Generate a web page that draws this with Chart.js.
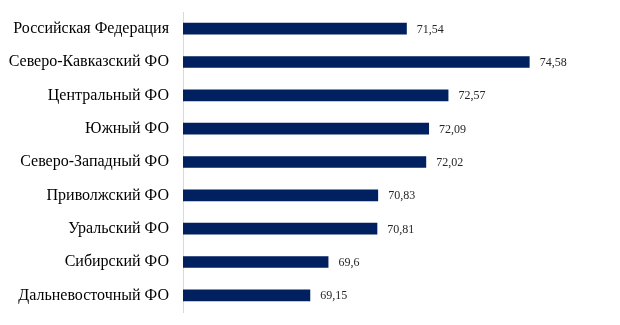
<!DOCTYPE html>
<html>
<head>
<meta charset="utf-8">
<script src="https://cdn.jsdelivr.net/npm/chart.js@4"></script>
<style>
  html, body { margin: 0; padding: 0; background: #fff; }
  #wrap { width: 620px; height: 325px; }
</style>
</head>
<body>
<div id="wrap"><canvas id="chart" width="620" height="325"></canvas></div>
<script>
const regions = [
  "Российская Федерация",
  "Северо-Кавказский ФО",
  "Центральный ФО",
  "Южный ФО",
  "Северо-Западный ФО",
  "Приволжский ФО",
  "Уральский ФО",
  "Сибирский ФО",
  "Дальневосточный ФО"
];
const lifeExpectancy = [71.54, 74.58, 72.57, 72.09, 72.02, 70.83, 70.81, 69.6, 69.15];
const axisMin = 66;
const axisMax = 76;

// value labels to the right of each bar, decimal comma
const valueLabels = {
  id: "valueLabels",
  afterDatasetsDraw(chart) {
    const ctx = chart.ctx;
    const meta = chart.getDatasetMeta(0);
    ctx.save();
    ctx.font = "12px 'Liberation Serif', 'Times New Roman', serif";
    ctx.fillStyle = "#262626";
    ctx.textAlign = "left";
    ctx.textBaseline = "middle";
    meta.data.forEach((bar, i) => {
      const txt = String(lifeExpectancy[i]).replace(".", ",");
      ctx.fillText(txt, bar.x + 10, bar.y + 1);
    });
    ctx.restore();
  }
};

new Chart(document.getElementById("chart"), {
  type: "bar",
  data: {
    labels: regions,
    datasets: [{
      data: lifeExpectancy,
      backgroundColor: "#002060",
      barPercentage: 0.35,
      categoryPercentage: 1
    }]
  },
  options: {
    indexAxis: "y",
    responsive: false,
    animation: false,
    layout: { padding: { left: 0, right: 33, top: 12, bottom: 13 } },
    plugins: {
      legend: { display: false },
      tooltip: { enabled: false }
    },
    scales: {
      x: {
        display: false,
        min: axisMin,
        max: axisMax
      },
      y: {
        afterFit: (scale) => {
          scale.width = 183;
          scale.paddingTop = 0;
          scale.paddingBottom = 0;
        },
        grid: { display: false, drawTicks: false },
        border: { display: true, color: "#d9d9d9", width: 1 },
        ticks: {
          padding: 14,
          color: "#000",
          font: { family: "'Liberation Serif', 'Times New Roman', serif", size: 16 }
        }
      }
    }
  },
  plugins: [valueLabels]
});
</script>
</body>
</html>
